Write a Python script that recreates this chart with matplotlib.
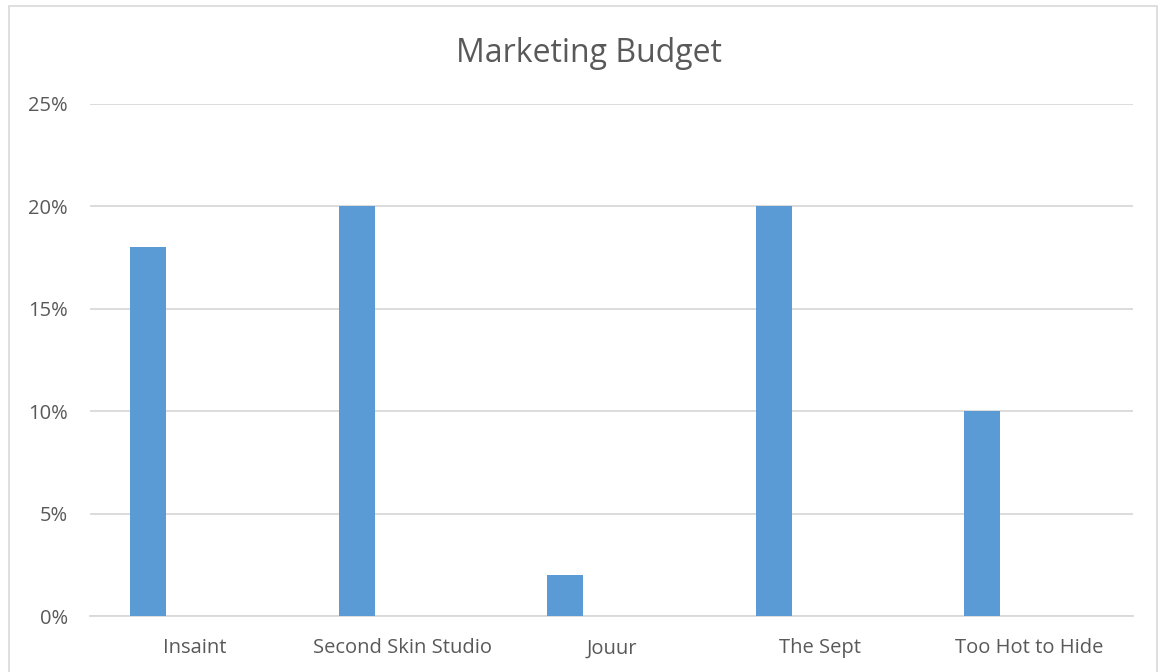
import matplotlib
matplotlib.use("Agg")
import matplotlib.pyplot as plt
import numpy as np
from matplotlib.patches import Rectangle
from matplotlib.ticker import PercentFormatter, MultipleLocator

plt.rcParams['font.family'] = ['Open Sans', 'DejaVu Sans']

# data
BRANDS = ['Insaint', 'Second Skin Studio', 'Jouur', 'The Sept', 'Too Hot to Hide']
BUDGET = [0.18, 0.20, 0.02, 0.20, 0.10]

BAR_COLOR = '#5B9BD5'
GRID_COLOR = '#D9D9D9'
TEXT_COLOR = '#595959'

fig = plt.figure(figsize=(11.61, 6.72), dpi=100)
W, H = 1161, 672

# outer chart border (Excel style)
fig.patches.append(Rectangle((9 / W, -0.01), (1157 - 9) / W, 1 - 6 / H + 0.01,
                             transform=fig.transFigure, fill=False,
                             edgecolor='#D9D9D9', linewidth=1.2))

ax = fig.add_axes([90 / W, (H - 616) / H, (1133 - 90) / W, (616 - 104) / H])

x = np.arange(len(BRANDS))
# bars sit left of the category centre (empty second series in original)
ax.bar(x - 0.222, BUDGET, width=0.173, color=BAR_COLOR, zorder=3)

ax.set_xlim(-0.5, len(BRANDS) - 0.5)
ax.set_ylim(0, 0.25)
ax.yaxis.set_major_locator(MultipleLocator(0.05))
ax.yaxis.set_major_formatter(PercentFormatter(1.0, decimals=0))
ax.set_xticks(x)
ax.set_xticklabels(BRANDS)

ax.grid(True, axis='y', color=GRID_COLOR, linewidth=1.3, zorder=0)
for s in ['top', 'right', 'left']:
    ax.spines[s].set_visible(False)
ax.spines['bottom'].set_color(GRID_COLOR)
ax.spines['bottom'].set_linewidth(1.3)
ax.tick_params(axis='both', length=0, labelsize=14.5, colors=TEXT_COLOR)
ax.tick_params(axis='x', pad=16)
ax.tick_params(axis='y', pad=16)

fig.text(0.507, 1 - 54 / H, 'Marketing Budget', ha='center', va='center',
         fontsize=23, color=TEXT_COLOR)

fig.savefig('out.png', dpi=100)
